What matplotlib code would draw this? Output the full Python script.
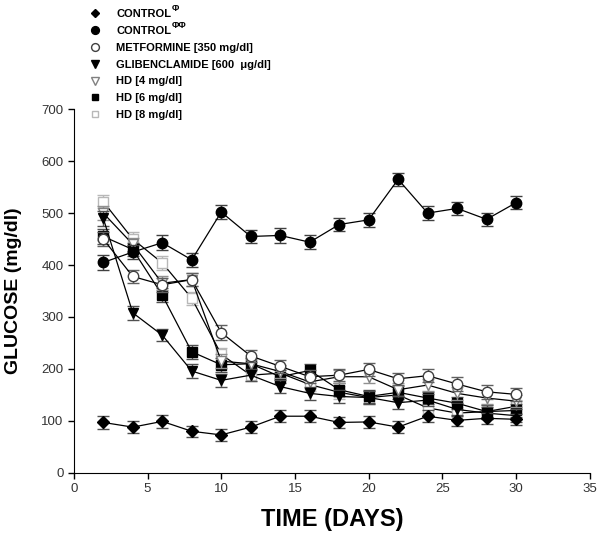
import matplotlib
matplotlib.use('Agg')
import matplotlib.pyplot as plt
from matplotlib.lines import Line2D

# --- fonts ---
plt.rcParams['font.family'] = ['Liberation Sans', 'DejaVu Sans']

# --- data ---
days = [2, 4, 6, 8, 10, 12, 14, 16, 18, 20, 22, 24, 26, 28, 30]

control_1 = [97, 88, 99, 80, 73, 88, 109, 109, 97, 98, 88, 109, 101, 105, 103]
control_1_err = [12, 11, 12, 11, 12, 11, 11, 12, 11, 11, 11, 12, 11, 11, 11]

control_2 = [405, 425, 443, 410, 502, 455, 457, 444, 478, 487, 565, 500, 509, 488, 520]
control_2_err = [14, 13, 14, 13, 13, 13, 14, 13, 13, 14, 12, 14, 13, 13, 13]

metformine = [450, 378, 362, 372, 270, 225, 205, 185, 188, 199, 181, 187, 171, 156, 151]
metformine_err = [14, 13, 13, 13, 14, 12, 12, 12, 12, 13, 12, 13, 13, 13, 12]

glibenclamide = [490, 308, 265, 196, 178, 188, 166, 153, 147, 145, 135, 140, 122, 115, 110]
glibenclamide_err = [14, 13, 12, 13, 13, 12, 12, 12, 12, 12, 12, 12, 12, 12, 12]

hd4 = [500, 440, 365, 372, 215, 210, 195, 175, 185, 185, 160, 169, 153, 144, 138]
hd4_err = [13, 13, 13, 13, 13, 12, 12, 12, 12, 12, 12, 12, 12, 12, 12]

hd6 = [455, 430, 342, 233, 208, 210, 185, 197, 160, 147, 155, 144, 134, 118, 120]
hd6_err = [14, 13, 13, 13, 13, 12, 12, 12, 12, 12, 12, 12, 12, 12, 12]

hd8 = [522, 450, 404, 336, 228, 188, 192, 170, 155, 145, 150, 125, 115, 118, 128]
hd8_err = [13, 13, 13, 13, 13, 12, 12, 12, 12, 12, 12, 12, 12, 12, 12]

labels = [
    'CONTROL',
    'CONTROL',
    'METFORMINE [350 mg/dl]',
    'GLIBENCLAMIDE [600  \u03bcg/dl]',
    'HD [4 mg/dl]',
    'HD [6 mg/dl]',
    'HD [8 mg/dl]',
]
superscripts = ['\u03a6', '\u03a6\u03a6']

# --- styles: marker, size, face, edge, errorbar colour ---
styles = [
    ('D', 6, 'black', 'black', '#505050'),
    ('o', 7.5, 'black', 'black', '#404040'),
    ('o', 7.5, 'white', '#404040', '#606060'),
    ('v', 7.5, 'black', 'black', '#505050'),
    ('v', 7.5, 'white', '#808080', '#909090'),
    ('s', 6.5, 'black', 'black', '#505050'),
    ('s', 6.5, 'white', '#b8b8b8', '#b8b8b8'),
]
series = [
    (control_1, control_1_err),
    (control_2, control_2_err),
    (metformine, metformine_err),
    (glibenclamide, glibenclamide_err),
    (hd4, hd4_err),
    (hd6, hd6_err),
    (hd8, hd8_err),
]
zorders = [9, 8, 7, 6, 5, 4, 3]

# --- figure ---
fig = plt.figure(figsize=(6.0, 5.46), dpi=100)
ax = fig.add_axes([0.123, 0.134, 0.860, 0.666])

handles = []
for (vals, err), (m, ms, fc, ec, errc), z in zip(series, styles, zorders):
    ax.errorbar(days, vals, yerr=err, fmt='-', color='black', lw=0.9,
                ecolor=errc, elinewidth=1.0, capsize=4, capthick=1.0,
                marker=m, markersize=ms, markerfacecolor=fc,
                markeredgecolor=ec, markeredgewidth=1.0, zorder=z)
    handles.append(Line2D([], [], linestyle='none', marker=m, markersize=ms * 0.75,
                          markerfacecolor=fc, markeredgecolor=ec,
                          markeredgewidth=1.0))

ax.set_xlim(0, 35)
ax.set_ylim(0, 700)
ax.set_xticks(range(0, 36, 5))
ax.set_yticks(range(0, 701, 100))
ax.spines['top'].set_visible(False)
ax.spines['right'].set_visible(False)
ax.tick_params(direction='out', length=4, width=1, labelsize=9.5, colors='black')
for lbl in ax.get_xticklabels() + ax.get_yticklabels():
    lbl.set_color('#333333')

ax.set_xlabel('TIME (DAYS)', fontsize=17, fontweight='bold', labelpad=9)
ax.set_ylabel('GLUCOSE (mg/dl)', fontsize=14, fontweight='bold', labelpad=14)

leg = fig.legend(handles, labels, loc='upper left', bbox_to_anchor=(0.138, 0.996),
                 frameon=False, prop={'size': 8, 'weight': 'bold'},
                 handlelength=1.0, handletextpad=1.4, labelspacing=0.62,
                 borderaxespad=0.2)

# superscripts after the two CONTROL labels
fig.canvas.draw()
inv = fig.transFigure.inverted()
for txt, sup in zip(leg.get_texts()[:2], superscripts):
    bb = txt.get_window_extent()
    x0, y0 = inv.transform((bb.x1 + 0.5, bb.y1 - 4))
    fig.text(x0, y0, sup, fontsize=6.5, fontweight='bold', va='bottom', ha='left')

fig.savefig('out.png', dpi=100)
